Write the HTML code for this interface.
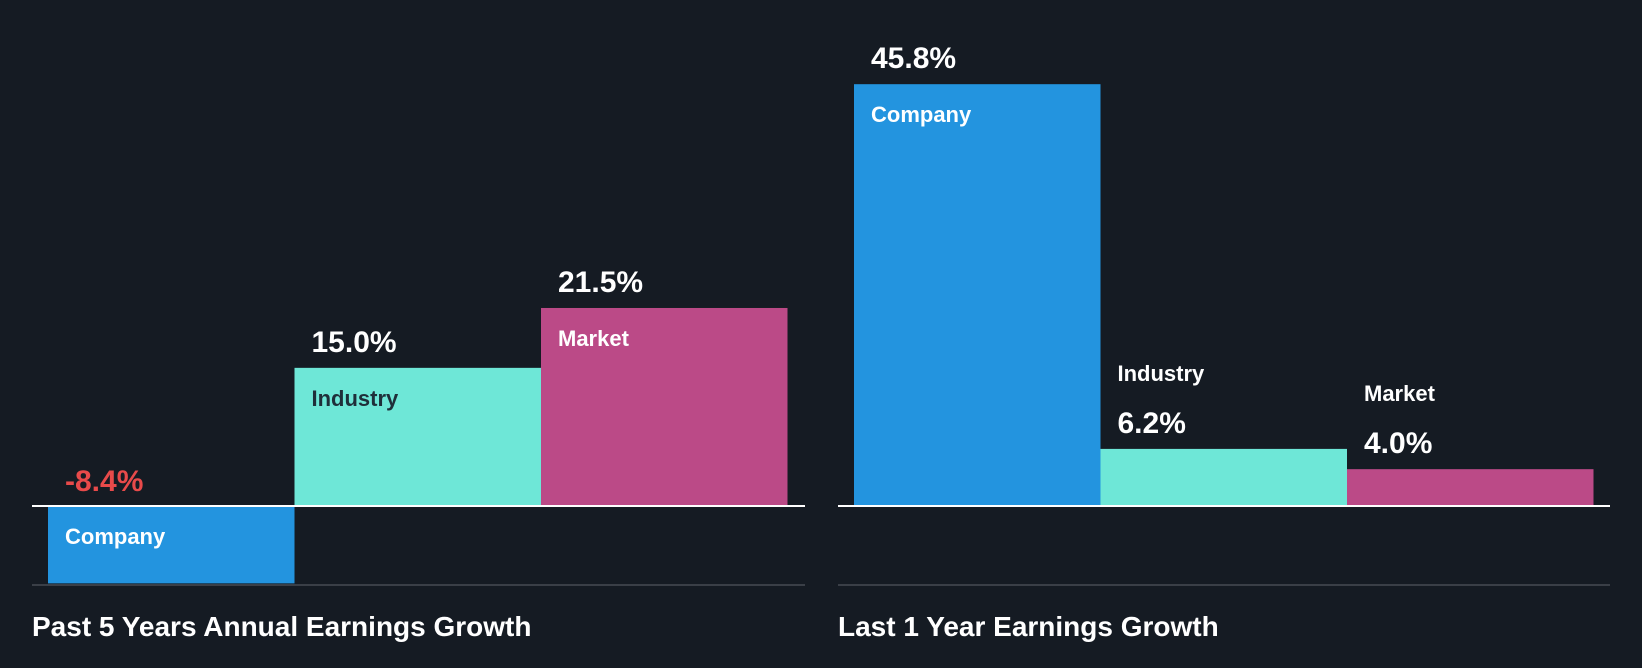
<!DOCTYPE html>
<html><head><meta charset="utf-8"><style>
html,body{margin:0;padding:0;background:#151b23;}
svg{display:block;font-family:"Liberation Sans",sans-serif;font-weight:bold;}
</style></head><body>
<svg id="c" width="1642" height="668">
<rect width="1642" height="668" fill="#151b23"/>
</svg>
<script>
const categories = ["Company","Industry","Market"];
const past5Values = [-8.4, 15.0, 21.5];
const last1Values = [45.8, 6.2, 4.0];
const panelTitles = ["Past 5 Years Annual Earnings Growth","Last 1 Year Earnings Growth"];
const colors = ["#2394df","#6ee7d7","#bb4a87"];
const svg = document.getElementById('c');
const NS = "http://www.w3.org/2000/svg";
const baseY = 506, pxPer = 9.21;
function y(v){ return baseY - v*pxPer; }
function mk(tag, attrs, parent){ const e=document.createElementNS(NS,tag); for(const k in attrs) e.setAttribute(k,attrs[k]); (parent||svg).appendChild(e); return e; }
const panels = [{x0:32,x1:805,bx:48,vals:past5Values},{x0:838,x1:1610,bx:854,vals:last1Values}];
const bw = 246.5;
panels.forEach((p,pi)=>{
  const g = mk('g',{});
  
  
  p.vals.forEach((v,i)=>{
    const x = p.bx + i*bw;
    const top = Math.min(y(v), baseY), h = Math.abs(y(v)-baseY);
    const r = mk('rect',{x:x,y:top,width:bw,height:h,fill:colors[i]},g);
    
    
    const valTxt = (v>0?'':'') + v.toFixed(1) + '%';
    let valY, labY, labFill;
    if (v < 0){ valY = baseY-15; labY = baseY+38; labFill = '#ffffff'; }
    else if (h > 90){ valY = top-16; labY = top+38; labFill = i===1?'#1f2f3a':'#ffffff'; }
    else { valY = top-16; labY = top-68; labFill = '#ffffff'; }
    const vt = mk('text',{x:x+17,y:valY,fill:v<0?'#e84a4a':'#ffffff','font-size':30},g);
    vt.textContent = valTxt;
    
    
    const lt = mk('text',{x:x+17,y:labY,fill:labFill,'font-size':22},g);
    lt.textContent = categories[i];
    
    
  });
  const bl = mk('rect',{x:p.x0,y:baseY-1,width:p.x1-p.x0,height:2,fill:'#ffffff'},g);
  
  
  const gl = mk('rect',{x:p.x0,y:584,width:p.x1-p.x0,height:2,fill:'#3a3f47'},g);
  
  
  const t = mk('text',{x:p.x0,y:636,fill:'#ffffff','font-size':28},g);
  t.textContent = panelTitles[pi];
  
  
});
</script>
</body></html>
